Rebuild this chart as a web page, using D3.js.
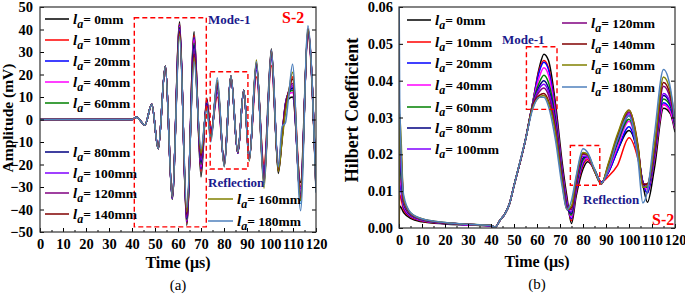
<!DOCTYPE html>
<html>
<head>
<meta charset="utf-8">
<script src="https://cdn.jsdelivr.net/npm/d3@7"></script>
<style>
body { margin: 0; background: #fff; }
svg text { font-family: "Liberation Serif", "Times New Roman", serif; }
</style>
</head>
<body>
<svg id="chart" width="685" height="294"></svg>
<script>
// 系列名と色
var labels = ["0mm", "10mm", "20mm", "40mm", "60mm", "80mm", "100mm", "120mm", "140mm", "160mm", "180mm"];
var colors = ["#000000", "#ff0000", "#0000ff", "#ff00ff", "#008000", "#000080", "#8000ff", "#800080", "#800000", "#808000", "#4f81bd"];

// (a) 波形 : 時間 (μs)
var timeA = [0, 40, 42, 45.6, 48.6, 51.4, 54.5, 57.5, 60.7, 63.8, 67, 70, 72.5, 74.3, 77.1, 80.1, 83, 86, 88.6, 91, 94.1, 97.4, 100.6, 103.6, 105.3, 106.7, 108, 109.8, 113.3, 116.5, 120];
var amp0   = [0,0,1,-2.5,6.8,-13,23.8,-35.5, 43.5,-47,39,-25.5,9.5,-6, 15,-19,19,-15,13,-17, 24,-22,31.5,-24, -8,5,9,10, -28,39,-28];
var amp10  = [0,0,1,-2.5,6.8,-13,23.8,-35, 42.5,-46,37.5,-23,8.5,-5, 10,-19,19,-15,13,-17, 19,-20,24,-20, -6,6,10,19, -30,37,-30];
var amp20  = [0,0,1,-2.5,6.8,-13,23.8,-35, 42,-45.5,36.5,-22,8,-6, 12,-19.5,19,-15,13,-17, 22,-24,27,-22, -7,6,11,14, -31,38,-29];
var amp40  = [0,0,1,-2.5,6.8,-13,23.8,-35, 41.5,-45,35.5,-21,7.5,-6.5, 13,-20,19,-15,13,-17.5, 23,-25,28,-21, -6,7,11,12, -32,38.5,-29];
var amp60  = [0,0,1,-2.5,6.8,-13,23.8,-35, 41,-44.5,34,-20,7,-7, 14,-20,19,-15,13,-17.5, 24,-26,29,-21, -6,7,11.5,13, -33,39,-30];
var amp80  = [0,0,1,-2.5,6.8,-13,23.8,-35, 40.5,-44,33,-19,7,-7, 15,-20,19,-15,13,-17.5, 24.5,-27,29.5,-22, -7,7,12,14, -34,39.5,-30];
var amp100 = [0,0,1,-2.5,6.8,-13,23.8,-35, 40,-43.5,31.5,-18,6.5,-7.5, 15.5,-20.5,19.5,-15,13,-18, 25,-27,30,-22, -7,6.5,12,15, -34,40,-31];
var amp120 = [0,0,1,-2.5,6.8,-13,23.8,-34.5, 39.5,-43,30.5,-17,6,-8, 16,-20.5,19.5,-14.5,13,-18, 25,-28,30.5,-22, -7,6,12,16, -35,40,-31];
var amp140 = [0,0,1,-2.5,6.8,-13,23.8,-34.5, 39,-42,29,-16,6,-8, 16.5,-20.5,19.5,-14.5,13,-18, 25.5,-28,31,-23, -8,5,12,18, -35,40.5,-31];
var amp160 = [0,0,1,-2.5,6.8,-13,23.8,-34.5, 38,-41,27.5,-15,5.5,-9, 17.5,-21,19.5,-14.5,13,-18.5, 26.5,-30.5,30,-23, -9,3,11,21, -36,40,-32];
var amp180 = [0,0,1,-2.5,6.8,-13,23.8,-34.5, 36.8,-39,25.7,-13,5,-10, 18.6,-21,19.5,-14.3,13,-18, 25.7,-29,31,-21, -3,-1.5,9,24.5, -40.5,41.7,-32.5];

// (b) ヒルベルト係数
var timeB = [0, 0.3, 2, 5, 10, 20, 30, 40, 41.8, 44, 46, 48, 50, 55, 58, 61, 63, 65, 68, 71, 73, 75, 77, 80, 82, 85, 88, 91, 95, 100, 104, 106, 108, 111, 115, 118, 120];
var hil0   = [0,0.006,0.0042,0.0026,0.0017,0.0011,0.0008,0.0005, 0.0002,0.0022,0.0038,0.0065,0.0115,0.024, 0.0335,0.0435,0.0472,0.0455,0.034,0.0175,0.0085,0.0012, 0.0085,0.016,0.018,0.016,0.0125, 0.015,0.021,0.0265,0.0195,0.012,0.007,0.016, 0.0325,0.031,0.026];
var hil10  = [0,0.009,0.005,0.003,0.0019,0.0012,0.0009,0.0006, 0.0002,0.0022,0.0038,0.0065,0.0115,0.024, 0.0335,0.043,0.0455,0.0435,0.0325,0.016,0.0075,0.002, 0.0095,0.017,0.0185,0.0155,0.0125, 0.014,0.017,0.0245,0.0185,0.0125,0.0095,0.018, 0.0335,0.0315,0.027];
var hil20  = [0,0.012,0.0055,0.0032,0.002,0.0012,0.0009,0.0006, 0.0002,0.0022,0.0038,0.0065,0.0115,0.024, 0.0335,0.0425,0.045,0.043,0.032,0.0155,0.007,0.0025, 0.010,0.0175,0.019,0.0155,0.0125, 0.015,0.021,0.0275,0.0195,0.0125,0.0095,0.0185, 0.034,0.032,0.027];
var hil40  = [0,0.014,0.006,0.0034,0.0021,0.0013,0.0009,0.0006, 0.0002,0.0022,0.0038,0.0065,0.0115,0.024, 0.0335,0.041,0.0435,0.0415,0.031,0.015,0.0065,0.003, 0.0105,0.018,0.019,0.0155,0.0122, 0.0155,0.022,0.029,0.020,0.0125,0.0105,0.019, 0.0335,0.0315,0.027];
var hil60  = [0,0.017,0.0065,0.0036,0.0022,0.0013,0.001,0.0006, 0.0002,0.0022,0.0038,0.0065,0.0115,0.024, 0.0335,0.0395,0.0415,0.0395,0.030,0.0145,0.006,0.0035, 0.011,0.0185,0.0195,0.0155,0.0122, 0.016,0.023,0.0295,0.0205,0.0125,0.011,0.0195, 0.035,0.033,0.0275];
var hil80  = [0,0.019,0.007,0.0037,0.0023,0.0014,0.001,0.0006, 0.0002,0.0022,0.0038,0.0065,0.0115,0.024, 0.033,0.0385,0.040,0.038,0.029,0.014,0.0058,0.004, 0.0115,0.019,0.0195,0.0155,0.012, 0.0165,0.0235,0.0305,0.021,0.0125,0.0112,0.020, 0.036,0.0335,0.028];
var hil100 = [0,0.021,0.0072,0.0038,0.0023,0.0014,0.001,0.0006, 0.0002,0.0022,0.0038,0.0065,0.0115,0.024, 0.033,0.0378,0.039,0.037,0.0283,0.0135,0.0056,0.0045, 0.012,0.0195,0.0195,0.0155,0.012, 0.0168,0.024,0.031,0.021,0.0122,0.0115,0.0205, 0.0365,0.034,0.0285];
var hil120 = [0,0.024,0.0075,0.0039,0.0024,0.0014,0.001,0.0007, 0.0002,0.0022,0.0038,0.0065,0.0115,0.024, 0.033,0.037,0.038,0.036,0.0275,0.013,0.0054,0.005, 0.0125,0.020,0.0198,0.0155,0.012, 0.017,0.0245,0.0315,0.0215,0.012,0.0118,0.021, 0.0385,0.035,0.029];
var hil140 = [0,0.027,0.0078,0.004,0.0024,0.0014,0.001,0.0007, 0.0002,0.0022,0.0038,0.0065,0.0115,0.024, 0.0328,0.036,0.0365,0.0345,0.0265,0.0125,0.0052,0.0055, 0.013,0.0203,0.020,0.0155,0.012, 0.0172,0.025,0.032,0.022,0.0118,0.012,0.0215, 0.0395,0.036,0.029];
var hil160 = [0,0.031,0.008,0.0041,0.0025,0.0015,0.001,0.0007, 0.0002,0.0022,0.0038,0.0065,0.0115,0.024, 0.0325,0.0355,0.036,0.034,0.026,0.012,0.005,0.006, 0.0135,0.0205,0.020,0.0155,0.012, 0.0175,0.0255,0.032,0.0215,0.011,0.0115,0.022, 0.041,0.037,0.0295];
var hil180 = [0.07,0.035,0.009,0.0042,0.0025,0.0015,0.001,0.0007, 0.0002,0.0022,0.0038,0.0065,0.0115,0.024, 0.032,0.0355,0.0355,0.033,0.024,0.011,0.005,0.0075, 0.014,0.0215,0.0205,0.016,0.0122, 0.016,0.024,0.0305,0.018,0.0068,0.010,0.025, 0.043,0.038,0.029];

// 目盛
var timeTicks = [0, 10, 20, 30, 40, 50, 60, 70, 80, 90, 100, 110, 120];
var ampTicks = [-50, -40, -30, -20, -10, 0, 10, 20, 30, 40, 50];
var hilTicks = [0, 0.01, 0.02, 0.03, 0.04, 0.05, 0.06];

var ampSeries = [amp0, amp10, amp20, amp40, amp60, amp80, amp100, amp120, amp140, amp160, amp180];
var hilSeries = [hil0, hil10, hil20, hil40, hil60, hil80, hil100, hil120, hil140, hil160, hil180];

var svg = d3.select("#chart");

// スケール
var xA = d3.scaleLinear().domain([0, 120]).range([40, 316]);
var yA = d3.scaleLinear().domain([-50, 50]).range([232, 7]);
var xB = d3.scaleLinear().domain([0, 120]).range([399, 675]);
var yB = d3.scaleLinear().domain([0, 0.06]).range([228, 7]);

var defs = svg.append("defs");
defs.append("clipPath").attr("id", "clipA").append("rect")
    .attr("x", 40).attr("y", 7).attr("width", 276).attr("height", 225);
defs.append("clipPath").attr("id", "clipB").append("rect")
    .attr("x", 399).attr("y", 7).attr("width", 276).attr("height", 221);

function drawAxes(x, y, yTicks, yFmt, xPad, yPad){
    var x0 = x.range()[0], x1 = x.range()[1];
    var y0 = y.range()[0], y1 = y.range()[1];
    var minor = d3.range(5, 120, 10);

    var gb = svg.append("g").attr("transform", "translate(0," + y0 + ")")
        .call(d3.axisBottom(x).tickValues(timeTicks).tickSize(-4).tickPadding(xPad).tickFormat(d3.format("d")));
    svg.append("g").attr("transform", "translate(0," + y0 + ")")
        .call(d3.axisBottom(x).tickValues(minor).tickSize(-2).tickFormat(""));
    var gl = svg.append("g").attr("transform", "translate(" + x0 + ",0)")
        .call(d3.axisLeft(y).tickValues(yTicks).tickSize(-4).tickPadding(yPad).tickFormat(yFmt));
    svg.append("g").attr("transform", "translate(" + x1 + ",0)")
        .call(d3.axisRight(y).tickValues(yTicks).tickSize(-4).tickFormat(""));

    svg.selectAll(".domain").remove();
    svg.selectAll(".tick line").attr("stroke", "#000").attr("stroke-width", 1);
    [gb, gl].forEach(function(g){
        g.selectAll("text")
            .attr("fill", "#000")
            .style("font-family", "'Liberation Serif', serif")
            .style("font-weight", "bold")
            .style("font-size", "14.5px");
    });

    svg.append("rect")
        .attr("x", x0).attr("y", y1)
        .attr("width", x1 - x0).attr("height", y0 - y1)
        .attr("fill", "none").attr("stroke", "#333").attr("stroke-width", 1.2);
}

function drawLines(x, y, times, seriesList, clipId){
    var line = d3.line()
        .x(function(d){ return x(d[0]); })
        .y(function(d){ return y(d[1]); })
        .curve(d3.curveMonotoneX);
    var g = svg.append("g").attr("clip-path", "url(#" + clipId + ")");
    seriesList.forEach(function(vals, i){
        var pts = times.map(function(t, k){ return [t, vals[k]]; });
        g.append("path")
            .attr("d", line(pts))
            .attr("fill", "none")
            .attr("stroke", colors[i])
            .attr("stroke-width", 1.5);
    });
}

function legendItem(lx1, lx2, ly, i){
    svg.append("line")
        .attr("x1", lx1).attr("x2", lx2).attr("y1", ly).attr("y2", ly)
        .attr("stroke", colors[i]).attr("stroke-width", 1.5);
    var t = svg.append("text")
        .attr("x", lx2 + 4).attr("y", ly + 4.5)
        .style("font-size", "13.5px").style("font-weight", "bold");
    t.append("tspan").text("l").style("font-style", "italic").style("font-size", "15px");
    t.append("tspan").text("a").style("font-style", "italic").style("font-size", "12px").attr("dy", 4);
    t.append("tspan").text("= " + labels[i]).attr("dy", -4);
}

function dashBox(x, y, t0, t1, v0, v1){
    svg.append("rect")
        .attr("x", x(t0)).attr("y", y(v1))
        .attr("width", x(t1) - x(t0)).attr("height", y(v0) - y(v1))
        .attr("fill", "none").attr("stroke", "#ff0000")
        .attr("stroke-width", 1.4).attr("stroke-dasharray", "5,3");
}

function note(px, py, txt, color, size){
    svg.append("text").attr("x", px).attr("y", py).text(txt)
        .attr("fill", color).style("font-weight", "bold").style("font-size", size + "px");
}

// ---------- (a) ----------
drawLines(xA, yA, timeA, ampSeries, "clipA");
drawAxes(xA, yA, ampTicks, d3.format("d"), 7, 7);
dashBox(xA, yA, 41, 72.3, -47.7, 45.2);
dashBox(xA, yA, 74, 90.4, -22, 21.2);

[19, 40, 61, 82, 103, 152, 173, 193, 214].forEach(function(ly, k){
    legendItem(45, 69, ly, k);
});
legendItem(208, 233, 199, 9);
legendItem(208, 233, 221, 10);

note(208, 24, "Mode-1", "#1a1a8c", 13);
note(282, 23, "S-2", "#ff0000", 16);
note(208, 187, "Reflection", "#1a1a8c", 13);

svg.append("text").attr("x", 178).attr("y", 268).attr("text-anchor", "middle")
    .text("Time (μs)").style("font-weight", "bold").style("font-size", "16px");
svg.append("text").attr("transform", "translate(13,118) rotate(-90)").attr("text-anchor", "middle")
    .text("Amplitude (mV)").style("font-weight", "bold").style("font-size", "15.5px");
svg.append("text").attr("x", 178).attr("y", 290).attr("text-anchor", "middle")
    .text("(a)").style("font-size", "15px");

// ---------- (b) ----------
drawLines(xB, yB, timeB, hilSeries, "clipB");
drawAxes(xB, yB, hilTicks, d3.format(".2f"), 7, 6);
dashBox(xB, yB, 55.4, 68.7, 0.0322, 0.0492);
dashBox(xB, yB, 74.5, 87.3, 0.0116, 0.0224);

[20, 42, 63, 85, 107, 128, 149].forEach(function(ly, k){
    legendItem(407, 431, ly, k);
});
[23, 44, 65, 87].forEach(function(ly, k){
    legendItem(562, 587, ly, k + 7);
});

note(502, 44, "Mode-1", "#1a1a8c", 13);
note(583, 204, "Reflection", "#1a1a8c", 13);
note(652, 225, "S-2", "#ff0000", 16);

svg.append("text").attr("x", 537).attr("y", 267).attr("text-anchor", "middle")
    .text("Time (μs)").style("font-weight", "bold").style("font-size", "16px");
svg.append("text").attr("transform", "translate(358,110) rotate(-90)").attr("text-anchor", "middle")
    .text("Hilbert Coefficient").style("font-weight", "bold").style("font-size", "18px");
svg.append("text").attr("x", 537).attr("y", 289).attr("text-anchor", "middle")
    .text("(b)").style("font-size", "15px");
</script>
</body>
</html>
